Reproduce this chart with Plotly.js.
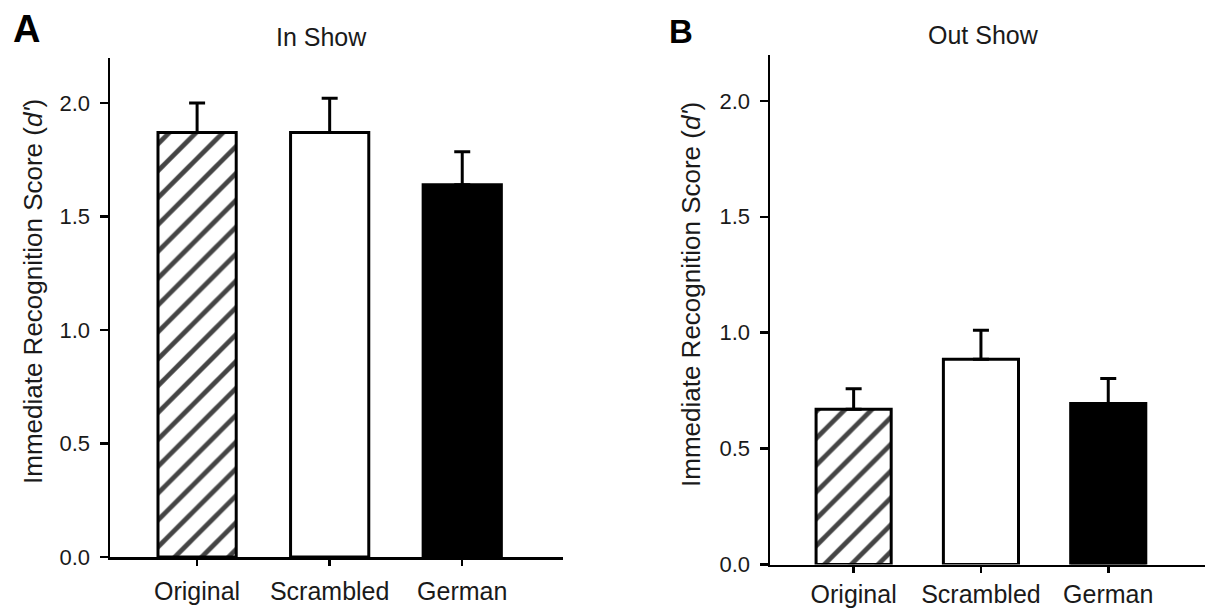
<!DOCTYPE html>
<html>
<head>
<meta charset="utf-8">
<script src="https://cdn.plot.ly/plotly-3.0.1.min.js"></script>
<style>html,body{margin:0;padding:0;background:#fff;}#chart{width:1205px;height:608px;}</style>
</head>
<body>
<div id="chart"></div>
<script>
const categories = ["Original", "Scrambled", "German"];
const inShowMeans = [1.87, 1.87, 1.64];
const inShowErr = [0.13, 0.15, 0.145];
const outShowMeans = [0.67, 0.885, 0.695];
const outShowErr = [0.088, 0.125, 0.107];
const yTicks = [0, 0.5, 1.0, 1.5, 2.0];
const yTickText = ["0.0", "0.5", "1.0", "1.5", "2.0"];
const panelTitles = ["In Show", "Out Show"];
const panelLetters = ["A", "B"];
const yTitle = "Immediate Recognition Score (<i>d'</i>)";

const W = 1205, H = 608;
const fontFam = "Liberation Sans, Arial, sans-serif";
const txtCol = "#1a1a1a";

function barTrace(means, errs, xa, ya) {
  return {
    type: "bar",
    x: categories,
    y: means,
    xaxis: xa, yaxis: ya,
    width: 0.59,
    marker: {
      color: ["white", "white", "black"],
      line: {color: "black", width: 3},
      pattern: {shape: ["/", "", ""], fgcolor: "black", fgopacity: 1, size: 19, solidity: 0.25, fillmode: "overlay"}
    },
    error_y: {type: "data", symmetric: false, array: errs, arrayminus: errs.map(() => 0), color: "black", thickness: 3, width: 8},
    hoverinfo: "skip",
    showlegend: false
  };
}

const data = [
  barTrace(inShowMeans, inShowErr, "x", "y"),
  barTrace(outShowMeans, outShowErr, "x2", "y2")
];

function xAxis(domain, anchor, standoff) {
  return {
    domain: domain, anchor: anchor,
    range: [-0.657, 2.76],
    showline: true, linecolor: "black", linewidth: 2.5,
    ticks: "outside", ticklen: 6, tickwidth: 2.5, tickcolor: "black",
    showgrid: false, zeroline: false,
    tickfont: {family: fontFam, size: 25, color: txtCol},
    ticklabelstandoff: standoff,
    fixedrange: true
  };
}
function yAxis(domain, anchor) {
  return {
    domain: domain, anchor: anchor,
    range: [0, 2.2],
    tickvals: yTicks, ticktext: yTickText,
    showline: true, linecolor: "black", linewidth: 2.5,
    ticks: "outside", ticklen: 8, tickwidth: 2.5, tickcolor: "black",
    showgrid: false, zeroline: false,
    tickfont: {family: fontFam, size: 22, color: txtCol},
    ticklabelstandoff: 5,
    fixedrange: true
  };
}

const layout = {
  width: W, height: H,
  margin: {l: 0, r: 0, t: 0, b: 0},
  paper_bgcolor: "white", plot_bgcolor: "white",
  font: {family: fontFam, color: txtCol},
  xaxis: xAxis([110 / W, 563 / W], "y", 4),
  yaxis: yAxis([1 - 557 / H, 1 - 57.5 / H], "x"),
  xaxis2: xAxis([770 / W, 1], "y2", 0),
  yaxis2: yAxis([1 - 564.5 / H, 1 - 54.5 / H], "x2"),
  annotations: [
    {text: panelTitles[0], xref: "paper", yref: "paper", x: 321 / W, y: 1 - 37 / H, xanchor: "center", yanchor: "middle", showarrow: false, font: {size: 25, family: fontFam, color: txtCol}},
    {text: panelTitles[1], xref: "paper", yref: "paper", x: 983 / W, y: 1 - 35 / H, xanchor: "center", yanchor: "middle", showarrow: false, font: {size: 25, family: fontFam, color: txtCol}},
    {text: "<b>" + panelLetters[0] + "</b>", xref: "paper", yref: "paper", x: 26 / W, y: 1 - 29 / H, xanchor: "center", yanchor: "middle", showarrow: false, font: {size: 38, family: fontFam, color: "black"}},
    {text: "<b>" + panelLetters[1] + "</b>", xref: "paper", yref: "paper", x: 681 / W, y: 1 - 31 / H, xanchor: "center", yanchor: "middle", showarrow: false, font: {size: 33, family: fontFam, color: "black"}},
    {text: yTitle, xref: "paper", yref: "paper", x: 33 / W, y: 1 - 292 / H, xanchor: "center", yanchor: "middle", textangle: -90, showarrow: false, font: {size: 26, family: fontFam, color: txtCol}},
    {text: yTitle, xref: "paper", yref: "paper", x: 691 / W, y: 1 - 295 / H, xanchor: "center", yanchor: "middle", textangle: -90, showarrow: false, font: {size: 26, family: fontFam, color: txtCol}}
  ]
};

Plotly.newPlot("chart", data, layout, {staticPlot: true, displayModeBar: false});
</script>
</body>
</html>
